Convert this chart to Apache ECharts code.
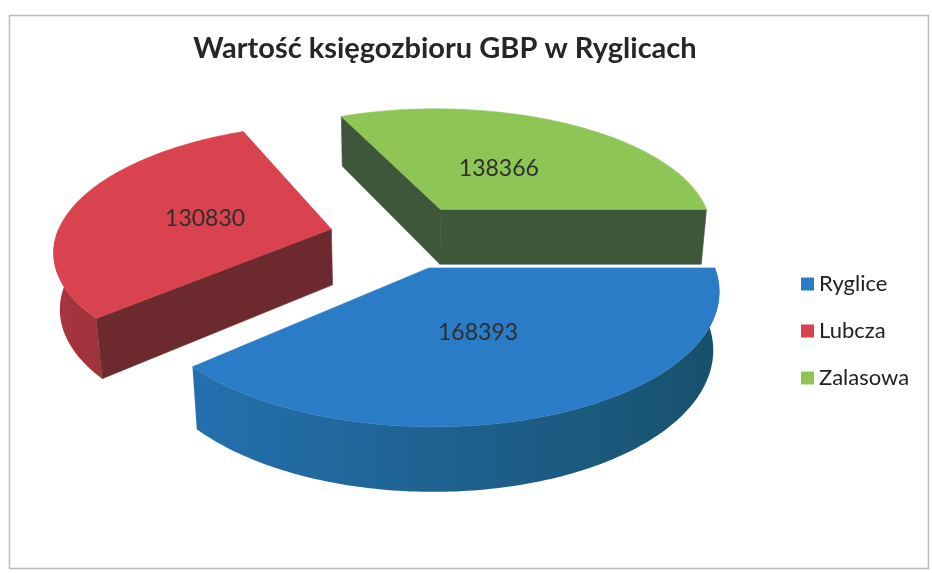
<!DOCTYPE html>
<html>
<head>
<meta charset="utf-8">
<script src="https://cdn.jsdelivr.net/npm/echarts@6/dist/echarts.min.js"></script>
<style>
  html, body { margin: 0; padding: 0; background: #fff; }
  #chart { width: 932px; height: 573px; }
</style>
</head>
<body>
<div id="chart"></div>
<script>
const categories = ['Ryglice', 'Lubcza', 'Zalasowa'];
const values = [168393, 130830, 138366];

// kolory: wierzch, ściany boczne, ściana zewnętrzna (jasna / ciemna)
const topColors = ['#2b7cc6', '#d8434f', '#8ec656'];
const sideColors = ['#1b5a80', '#6c2a2f', '#3e573a'];
const wallLight = ['#2675ba', '#a8353f', '#5f8a3a'];
const wallDark = ['#174f68', '#5e2126', '#3a5233'];

// widok 3D
const view = { cx: 402, cy: 236, r: 275, h: 64, explode: 73, tilt: 26.7, dist: 1600, start: 90 };
const rad = Math.PI / 180;
const total = values.reduce((a, b) => a + b, 0);

function mix(c1, c2, t) {
  const p = c => [1, 3, 5].map(k => parseInt(c.slice(k, k + 2), 16));
  const a = p(c1), b = p(c2);
  return 'rgb(' + a.map((v, k) => Math.round(v + (b[k] - v) * t)).join(',') + ')';
}

function project(x, d, hgt) {
  const a = view.tilt * rad;
  const up = d * Math.sin(a) + hgt * Math.cos(a);
  const fwd = d * Math.cos(a) - hgt * Math.sin(a);
  const s = view.dist / (view.dist + fwd);
  return [view.cx + x * s, view.cy - up * s];
}

function sliceAngles(i) {
  let before = 0;
  for (let k = 0; k < i; k++) before += values[k];
  const a0 = view.start + 360 * before / total;
  return [a0, a0 + 360 * values[i] / total];
}

function renderSlice(i) {
  return function (params, api) {
    const [a0, a1] = sliceAngles(i);
    const mid = (a0 + a1) / 2 * rad;
    const ox = view.explode * Math.sin(mid), od = view.explode * Math.cos(mid);
    const pt = (ang, r, hgt) => project(ox + r * Math.sin(ang * rad), od + r * Math.cos(ang * rad), hgt);
    const R = view.r, H = -view.h;
    const children = [];
    const poly = (points, fill, z2, stroke) => children.push({
      type: 'polygon', shape: { points }, z2,
      style: { fill, stroke: stroke || fill, lineWidth: 0.6 }
    });

    // ściany przekroju
    [[a0, a0 - 90], [a1, a1 + 90]].forEach(([ang, n]) => {
      if (Math.cos(n * rad) < 0) {
        poly([pt(0, 0, 0), pt(ang, R, 0), pt(ang, R, H), pt(0, 0, H)], sideColors[i], 1);
      }
    });

    // ściana zewnętrzna (tylko przód), cieniowana gradientem
    const w0 = Math.max(a0, 90), w1 = Math.min(a1, 270);
    if (w1 > w0) {
      const upper = [], lower = [], shade = [];
      for (let a = w0; a < w1; a += 1) {
        upper.push(pt(a, R, 0));
        lower.push(pt(a, R, H));
        shade.push([pt(a, R, 0)[0], (1 - Math.sin(a * rad)) / 2]);
      }
      upper.push(pt(w1, R, 0));
      lower.push(pt(w1, R, H));
      shade.push([pt(w1, R, 0)[0], (1 - Math.sin(w1 * rad)) / 2]);
      const xs = shade.map(s => s[0]);
      const minX = Math.min(...xs), maxX = Math.max(...xs);
      const stops = shade
        .map(([x, t]) => ({ offset: (x - minX) / (maxX - minX || 1), color: mix(wallDark[i], wallLight[i], t) }))
        .sort((p, q) => p.offset - q.offset);
      const grad = new echarts.graphic.LinearGradient(0, 0, 1, 0, stops);
      children.push({
        type: 'polygon', z2: 2,
        shape: { points: upper.concat(lower.reverse()) },
        style: { fill: grad }
      });
    }

    // wierzch
    const top = [pt(0, 0, 0)];
    for (let a = a0; a < a1; a += 1) top.push(pt(a, R, 0));
    top.push(pt(a1, R, 0));
    poly(top, topColors[i], 3);

    const lp = pt(mid / rad, R * 0.47, 0);
    children.push({
      type: 'text', x: lp[0] - 4, y: lp[1] + 2, z2: 4,
      style: {
        text: String(api.value(0)), fill: '#2e2e2e', fontSize: 23, fontFamily: 'Lato',
        align: 'center', verticalAlign: 'middle'
      }
    });
    return { type: 'group', children };
  };
}

const chart = echarts.init(document.getElementById('chart'));
chart.setOption({
  animation: false,
  backgroundColor: '#fff',
  title: {
    text: 'Wartość księgozbioru GBP w Ryglicach',
    left: 440, top: 29, textAlign: 'center',
    textStyle: { fontFamily: 'Lato', fontSize: 29, fontWeight: 'bold', color: '#262626' }
  },
  legend: {
    orient: 'vertical', left: 796, top: 268,
    itemWidth: 13, itemHeight: 13, itemGap: 25,
    icon: 'rect',
    data: categories,
    textStyle: { fontFamily: 'Lato', fontSize: 22, color: '#222' }
  },
  graphic: [{
    type: 'rect', left: 7, top: 13, silent: true,
    shape: { width: 919, height: 553 },
    style: { fill: 'none', stroke: '#bbb', lineWidth: 1.5 }
  }],
  series: categories.map((name, i) => ({
    type: 'custom',
    name,
    coordinateSystem: 'none',
    silent: true,
    z: i === 0 ? 3 : 2,
    itemStyle: { color: topColors[i] },
    data: [values[i]],
    renderItem: renderSlice(i)
  }))
});
window.addEventListener('resize', () => chart.resize());
</script>
</body>
</html>
